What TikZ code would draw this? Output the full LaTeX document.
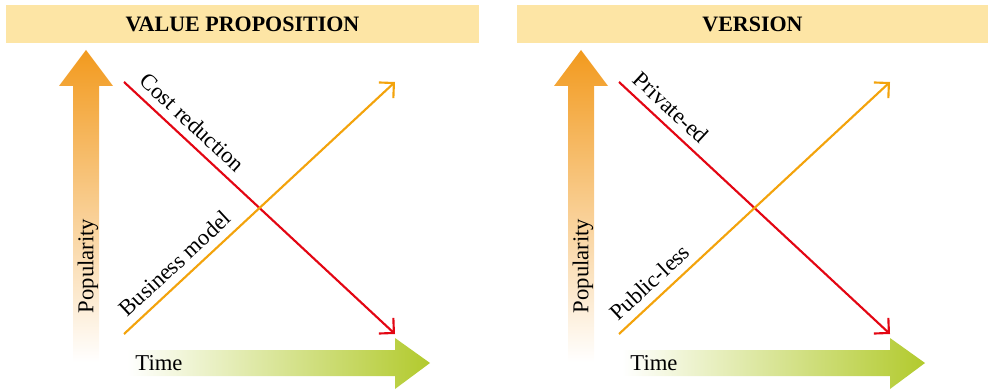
\documentclass[tikz,border=0pt]{standalone}
\usepackage{fontspec}
\setmainfont{Liberation Serif}
\usetikzlibrary{arrows.meta}

\definecolor{headfill}{HTML}{FDE5A5}
\definecolor{downred}{HTML}{E30613}
\definecolor{uporange}{HTML}{F3A30C}
\definecolor{popfill}{HTML}{F29A1E}
\definecolor{timefill}{HTML}{B2CA2D}

\tikzset{
  head/.style={fill=headfill, minimum height=28.5pt, inner sep=0pt,
    font=\fontsize{16.5}{19}\selectfont\bfseries},
  trend/.style={line width=1.6pt, -{Straight Barb[length=8pt,width=16pt]}},
  lbl/.style={text=black, font=\fontsize{17}{20}\selectfont, inner sep=2pt},
}

\begin{document}
\begin{tikzpicture}[x=0.75pt, y=-0.75pt]
\useasboundingbox (0,0) rectangle (991,391);

% left panel
\node[head, minimum width=354.75pt] (vphead) at (242.5,24) {VALUE PROPOSITION};
\shade[top color=popfill, bottom color=white]
  (73,362) -- (73,86) -- (59,86) -- (86,50) -- (113,86) -- (99,86) -- (99,362) -- cycle;
\shade[left color=white, right color=timefill]
  (127,350) -- (395,350) -- (395,338) -- (430,363) -- (395,389) -- (395,376) -- (127,376) -- cycle;
\node[lbl, rotate=90] (vppop) at (88,266) {Popularity};
\node[lbl] (vptime) at (159,363) {Time};
\coordinate (cr0) at (124,82);
\coordinate (cr1) at (395,334);
\coordinate (bm0) at (124,334);
\coordinate (bm1) at (395,82);
\draw[trend, downred] (cr0) -- node[lbl, pos=.21, sloped, above=4pt] (crlab) {Cost reduction} (cr1);
\draw[trend, uporange] (bm0) -- node[lbl, pos=.23, sloped, above=4pt] (bmlab) {Business model} (bm1);

% right panel
\node[head, minimum width=353.25pt] (verhead) at (752.5,24) {VERSION};
\shade[top color=popfill, bottom color=white]
  (568,362) -- (568,86) -- (554,86) -- (581,50) -- (608,86) -- (594,86) -- (594,362) -- cycle;
\shade[left color=white, right color=timefill]
  (622,350) -- (890,350) -- (890,338) -- (925,363) -- (890,389) -- (890,376) -- (622,376) -- cycle;
\node[lbl, rotate=90] (verpop) at (583,266) {Popularity};
\node[lbl] (vertime) at (654,363) {Time};
\coordinate (pe0) at (619,82);
\coordinate (pe1) at (890,334);
\coordinate (pl0) at (619,334);
\coordinate (pl1) at (890,82);
\draw[trend, downred] (pe0) -- node[lbl, pos=.15, sloped, above=4pt] (pelab) {Private-ed} (pe1);
\draw[trend, uporange] (pl0) -- node[lbl, pos=.156, sloped, above=4pt] (pllab) {Public-less} (pl1);
\end{tikzpicture}
\end{document}
